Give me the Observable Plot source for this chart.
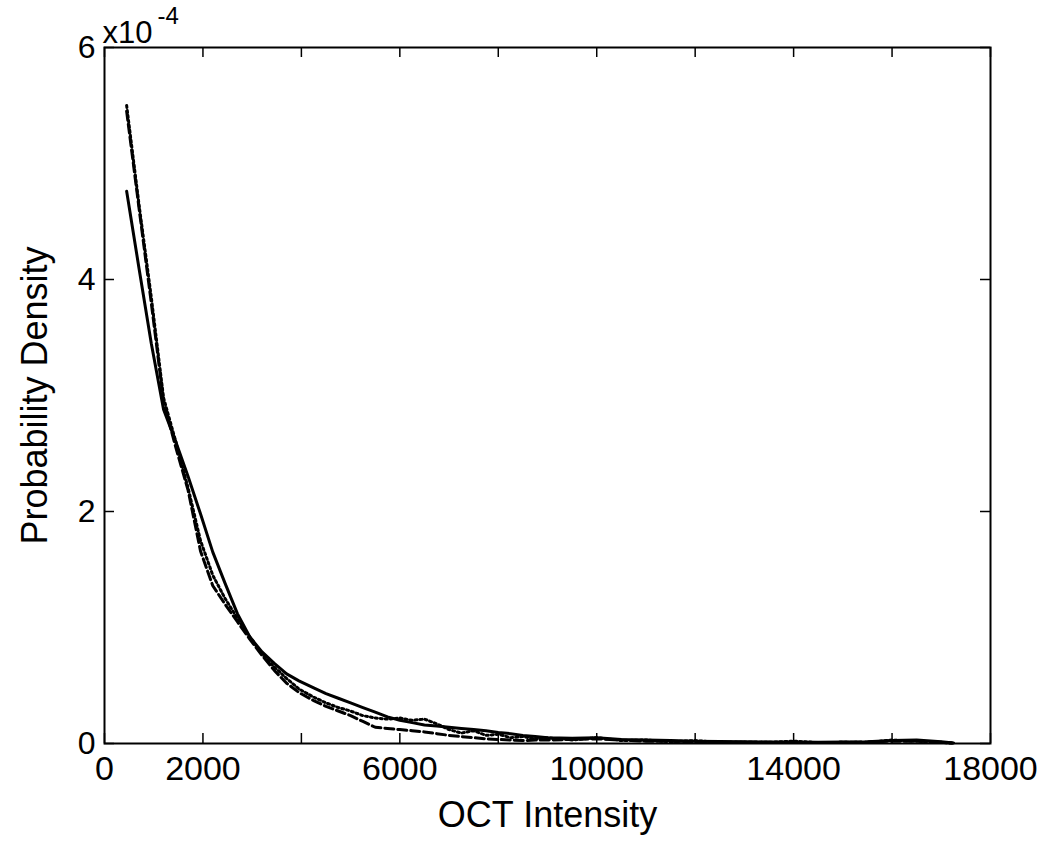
<!DOCTYPE html>
<html>
<head>
<meta charset="utf-8">
<script src="https://cdn.jsdelivr.net/npm/d3@7"></script>
<script src="https://cdn.jsdelivr.net/npm/@observablehq/plot@0.6"></script>
<style>
  html, body { margin: 0; padding: 0; background: #fff; }
</style>
</head>
<body>
<div id="chart"></div>
<script>
// OCT intensity (x) and probability densities (in units of 1e-4)
const intensity = [450, 700, 950, 1200, 1450, 1700, 1950, 2200, 2450, 2700, 2950, 3200, 3450, 3700, 3950, 4250, 4500, 4750, 5000, 5250, 5500, 5750, 6000, 6250, 6500, 6750, 7000, 7250, 7500, 7750, 8000, 8250, 8500, 8750, 9000, 9500, 10000, 10500, 11000, 11500, 12000, 12500, 13000, 13500, 14000, 14500, 15000, 15500, 16000, 16500, 17000, 17250];

const solidSeries = [4.76, 4.10, 3.45, 2.88, 2.60, 2.30, 1.98, 1.65, 1.38, 1.12, 0.92, 0.79, 0.69, 0.60, 0.54, 0.48, 0.43, 0.39, 0.35, 0.31, 0.27, 0.23, 0.20, 0.18, 0.16, 0.15, 0.14, 0.13, 0.12, 0.11, 0.095, 0.085, 0.07, 0.06, 0.05, 0.045, 0.05, 0.035, 0.03, 0.025, 0.02, 0.018, 0.015, 0.012, 0.012, 0.01, 0.012, 0.015, 0.025, 0.03, 0.015, 0.005];

const dashedSeries = [5.45, 4.62, 3.80, 2.95, 2.55, 2.18, 1.66, 1.36, 1.20, 1.05, 0.90, 0.76, 0.63, 0.52, 0.44, 0.37, 0.32, 0.28, 0.24, 0.19, 0.14, 0.13, 0.12, 0.11, 0.10, 0.085, 0.07, 0.06, 0.05, 0.04, 0.035, 0.03, 0.025, 0.03, 0.03, 0.035, 0.04, 0.03, 0.02, 0.02, 0.015, 0.012, 0.01, 0.01, 0.008, 0.008, 0.01, 0.012, 0.02, 0.02, 0.01, 0.003];

const dottedSeries = [5.50, 4.65, 3.85, 2.98, 2.60, 2.20, 1.75, 1.45, 1.25, 1.08, 0.92, 0.77, 0.66, 0.56, 0.47, 0.40, 0.35, 0.31, 0.28, 0.24, 0.22, 0.21, 0.22, 0.20, 0.21, 0.17, 0.12, 0.09, 0.11, 0.07, 0.08, 0.05, 0.06, 0.04, 0.05, 0.03, 0.05, 0.025, 0.03, 0.015, 0.025, 0.01, 0.012, 0.01, 0.02, 0.008, 0.01, 0.01, 0.03, 0.02, 0.01, 0.002];

const xTickMarks = [0, 2000, 4000, 6000, 8000, 10000, 12000, 14000, 16000, 18000];
const xTickLabels = [0, 2000, 6000, 10000, 14000, 18000];
const yTicks = [0, 2, 4, 6];

const toRows = (vals) => intensity.map((x, i) => ({x, y: vals[i]}));
const solidRows = toRows(solidSeries);
const dashedRows = toRows(dashedSeries);
const dottedRows = toRows(dottedSeries);

const W = 1050, H = 843;
const mL = 104, mR = 60, mT = 47, mB = 100;
const plotW = W - mL - mR, plotH = H - mT - mB;
const tickLen = 10;

const chart = Plot.plot({
  width: W,
  height: H,
  marginLeft: mL,
  marginRight: mR,
  marginTop: mT,
  marginBottom: mB,
  style: {fontFamily: "'Liberation Sans', Arial, sans-serif", fontSize: "32px", background: "#fff", color: "#000"},
  x: {domain: [0, 18000]},
  y: {domain: [0, 6]},
  marks: [
    // inward tick marks on all four sides
    Plot.ruleX(xTickMarks, {x: d => d, insetTop: plotH - tickLen, stroke: "#000", strokeWidth: 1.5}),
    Plot.ruleX(xTickMarks, {x: d => d, insetBottom: plotH - tickLen, stroke: "#000", strokeWidth: 1.5}),
    Plot.ruleY(yTicks, {y: d => d, insetRight: plotW - tickLen, stroke: "#000", strokeWidth: 1.5}),
    Plot.ruleY(yTicks, {y: d => d, insetLeft: plotW - tickLen, stroke: "#000", strokeWidth: 1.5}),
    Plot.axisX({ticks: xTickLabels, tickSize: 0, tickPadding: 12, tickFormat: d => String(d), fontSize: 34, label: null}),
    Plot.axisY({ticks: yTicks, tickSize: 0, tickPadding: 9, tickFormat: d => String(d), fontSize: 32, label: null}),
    Plot.lineY(dashedRows, {x: "x", y: "y", stroke: "#000", strokeWidth: 3, strokeDasharray: "9,4"}),
    Plot.lineY(dottedRows, {x: "x", y: "y", stroke: "#000", strokeWidth: 3, strokeDasharray: "2,3"}),
    Plot.lineY(solidRows, {x: "x", y: "y", stroke: "#000", strokeWidth: 3}),
    Plot.frame({stroke: "#000", strokeWidth: 2}),
    // exponent label
    Plot.text(["x10"], {frameAnchor: "top-left", text: d => d, textAnchor: "start", lineAnchor: "bottom", dx: -2, dy: -5, fontSize: 31}),
    Plot.text(["-4"], {frameAnchor: "top-left", text: d => d, textAnchor: "start", lineAnchor: "bottom", dx: 53, dy: -24, fontSize: 24}),
    // axis titles
    Plot.text(["OCT Intensity"], {frameAnchor: "bottom", text: d => d, textAnchor: "middle", lineAnchor: "middle", dy: 72, fontSize: 36}),
    Plot.text(["Probability Density"], {frameAnchor: "left", text: d => d, textAnchor: "middle", lineAnchor: "middle", rotate: -90, dx: -69, fontSize: 36})
  ]
});

document.getElementById("chart").appendChild(chart);
</script>
</body>
</html>
